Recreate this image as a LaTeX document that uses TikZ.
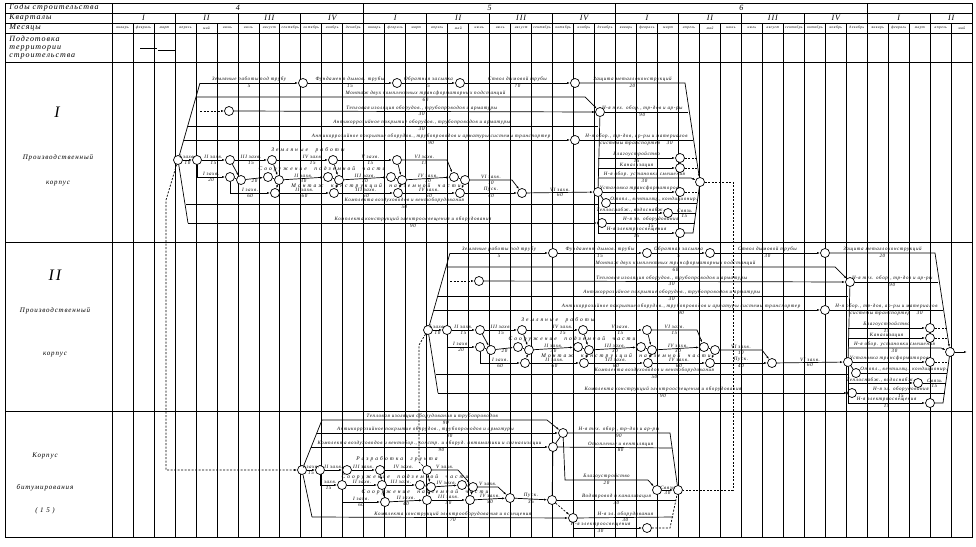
\documentclass[tikz,border=0pt]{standalone}
\usepackage{fontspec}
\setmainfont{Liberation Serif}
\newfontfamily\gost[LetterSpace=12]{Liberation Serif}
\usetikzlibrary{arrows.meta}

\newcommand\mw{20.98}

\begin{document}
\begin{tikzpicture}[x=1pt, y=-1pt, line width=0.7pt,
  ev/.style={circle, draw, fill=white, inner sep=0pt, minimum size=9pt},
  lbl/.style={font=\gost\itshape\fontsize{5}{5}\selectfont, inner sep=0.6pt},
  sp/.style={font=\gost\itshape\fontsize{5.5}{5.5}\selectfont, inner sep=0pt},
  mon/.style={font=\gost\itshape\fontsize{3.6}{3.6}\selectfont, inner sep=0pt},
  hd/.style={font=\gost\itshape\fontsize{8}{8}\selectfont, inner sep=0pt},
  sec/.style={font=\gost\itshape\fontsize{7}{7}\selectfont, inner sep=0pt},
  big/.style={font=\gost\itshape\fontsize{16}{16}\selectfont, inner sep=0pt},
  wk/.style={-{Latex[length=3pt,width=2pt]}},
  dep/.style={dash pattern=on 2pt off 1.5pt}]
\useasboundingbox (0,0) rectangle (976,546);

% table
\draw (5,3) rectangle (972,537);
\draw (112,3) -- (112,537);
\foreach \yy in {13,23,33,62,242,411}
  \draw (5,\yy) -- (972,\yy);
\foreach \m in {1,...,40}
  \draw ({112+\m*\mw},23) -- ({112+\m*\mw},537);
\foreach \m in {3,6,...,39}
  \draw ({112+\m*\mw},13) -- ({112+\m*\mw},23);
\foreach \m in {12,24,36}
  \draw ({112+\m*\mw},3) -- ({112+\m*\mw},13);

\node[hd, anchor=west] (hy) at (9,8) {Годы строительства};
\node[hd, anchor=west] (hq) at (9,18) {Кварталы};
\node[hd, anchor=west] (hm) at (9,28) {Месяцы};
\node[hd, anchor=west, align=left] (hp) at (9,47.5) {Подготовка\\территории\\строительства};
\foreach \yl [count=\i from 0] in {4,5,6}
  \node[hd] (y\yl) at ({112+(12*\i+6)*\mw},8) {\yl};
\foreach \ql [count=\i from 0] in {I,II,III,IV,I,II,III,IV,I,II,III,IV,I}
  \node[hd] (q\i) at ({112+(3*\i+1.5)*\mw},18) {\ql};
\node[hd] (q13) at ({112+40*\mw},18) {II};
\foreach \yr in {0,1,2}
  \foreach \mn [count=\i from 0] in {январь,февраль,март,апрель,май,июнь,июль,август,сентябрь,октябрь,ноябрь,декабрь}
    \node[mon] (mo\yr-\i) at ({112+(12*\yr+\i+0.5)*\mw},28) {\mn};
\foreach \mn [count=\i from 0] in {январь,февраль,март,апрель,май}
  \node[mon] (mo3-\i) at ({112+(36+\i+0.5)*\mw},28) {\mn};
\draw[line width=1pt] (140,48) -- (157,48);
\draw (158,50) -- (176,50);

\node[big] (n1) at (57,112) {I};
\node[sec] (n1a) at (58,158) {Производственный};
\node[sec] (n1b) at (58,184) {корпус};
\node[big] (n2) at (55,275) {II};
\node[sec] (n2a) at (55,311) {Производственный};
\node[sec] (n2b) at (55,355) {корпус};
\node[sec] (n3a) at (45,456) {Корпус};
\node[sec] (n3b) at (45,488) {битумирования};
\node[sec] (n3c) at (45,511) {( 1 5 )};

% production buildings I and II
\foreach \dx/\dy/\tg/\dd in {0/0/a/70, 250/170/b/30}{
\begin{scope}[shift={(\dx,\dy)}]
 \node[ev] (s\tg) at (178,160) {};
 \node[ev] (e1\tg) at (303,83) {};
 \node[ev] (e2\tg) at (397,83) {};
 \node[ev] (e3\tg) at (460,83) {};
 \node[ev] (e4\tg) at (575,83) {};
 \node[ev] (iz\tg) at (229,111) {};
 \node[ev] (th\tg) at (600,112) {};
 \node[ev] (tr\tg) at (575,140) {};
 \node[ev] (f\tg) at (700,182) {};
 \node[ev] (z1\tg) at (197,160) {};
 \node[ev] (z2\tg) at (230,160) {};
 \node[ev] (z3\tg) at (272,160) {};
 \node[ev] (z4\tg) at (333,160) {};
 \node[ev] (z5\tg) at (397,160) {};
 \node[ev] (p1\tg) at (230,177) {};
 \node[ev] (p2\tg) at (241,180) {};
 \node[ev] (p3\tg) at (268,177) {};
 \node[ev] (p4\tg) at (279,180) {};
 \node[ev] (p5\tg) at (328,177) {};
 \node[ev] (p6\tg) at (339,180) {};
 \node[ev] (p7\tg) at (391,177) {};
 \node[ev] (p8\tg) at (402,180) {};
 \node[ev] (p9\tg) at (454,177) {};
 \node[ev] (p10\tg) at (465,180) {};
 \node[ev] (m1\tg) at (275,193) {};
 \node[ev] (m2\tg) at (334,193) {};
 \node[ev] (m3\tg) at (398,193) {};
 \node[ev] (m4\tg) at (460,193) {};
 \node[ev] (q1\tg) at (522,193) {};
 \node[ev] (u1\tg) at (598,192) {};
 \node[ev] (u2\tg) at (606,203) {};
 \node[ev] (u3\tg) at (602,223) {};
 \node[ev] (r1\tg) at (680,158) {};
 \node[ev] (r2\tg) at (680,168) {};
 \node[ev] (r3\tg) at (680,192) {};
 \node[ev] (r4\tg) at (668,213) {};
 \node[ev] (r5\tg) at (680,233) {};

 % upper works
 \draw (s\tg) -- (200,83);
 \draw[wk] (200,83) -- node[lbl,above]{Земляные работы под трубу} node[lbl,below]{5} (e1\tg);
 \draw[wk] (e1\tg) -- node[lbl,above]{Фундамент дымов. трубы} node[lbl,below]{15} (e2\tg);
 \draw[wk] (e2\tg) -- node[lbl,above]{Обратная засыпка} node[lbl,below]{5} (e3\tg);
 \draw[wk] (e3\tg) -- node[lbl,above]{Ствол дымовой трубы} node[lbl,below]{\dd} (e4\tg);
 \draw[wk] (e4\tg) -- node[lbl,above]{Защита металлоконструкций} node[lbl,below]{20} (685,83) -- (f\tg);
 \draw[wk] (196,97) -- node[lbl,above,pos=0.59]{Монтаж двух комплектных трансформаторных подстанций} node[lbl,below,pos=0.59]{60} (585,97) -- (th\tg);
 \draw[dep,wk] (200,111) -- (iz\tg);
 \draw[wk] (iz\tg) -- node[lbl,above,pos=0.52]{Тепловая изоляция оборудов., трубопроводов и арматуры} node[lbl,below,pos=0.52]{30} (th\tg);
 \draw (188,126) -- node[lbl,above,pos=0.57]{Антикоррозийное покрытие оборудов., трубопроводов и арматуры} node[lbl,below,pos=0.57]{30} (598,126);
 \draw[wk] (184,140) -- node[lbl,above,pos=0.64]{Антикоррозийное покрытие оборудов., трубопроводов и арматуры системы транспортер} node[lbl,below,pos=0.64]{90} (tr\tg);
 \draw (th\tg) -- node[lbl,above,pos=0.45]{Н-я тех. обор., тр-дов и ар-ры} node[lbl,below,pos=0.45]{90} (688,112);
 \draw (tr\tg) -- node[lbl,above]{Н-я обор., тр-дов, ар-ры и материалов} node[lbl,below]{системы транспортер \quad 30} (693,140);

 % final cluster
 \draw (th\tg) -- (u1\tg);
 \draw (u1\tg) -- (598,233);
 \draw[wk] (598,158) -- node[lbl,above]{Благоустройство} node[lbl,below]{15} (r1\tg);
 \draw[wk] (598,168) -- node[lbl,above]{Канализация} (r2\tg);
 \draw[wk] (598,178) -- node[lbl,above]{Н-я обор. установки смешения} node[lbl,below]{30} (691,178) -- (f\tg);
 \draw[wk] (u1\tg) -- node[lbl,above]{Установка трансформаторов} (r3\tg);
 \draw (u1\tg) -- (u2\tg);
 \draw (u2\tg) -- node[lbl,above]{Отопл., вентиляц., кондиционир.} (697,203);
 \draw[wk] (598,213) -- node[lbl,above]{Теплоснабж., водоснабж.} (r4\tg);
 \draw (r4\tg) -- node[lbl,above]{Связь} node[lbl,below]{15} (696,213);
 \draw (u3\tg) -- node[lbl,above]{Н-я эл. оборудования} node[lbl,below]{15} (695,223);
 \draw[wk] (598,233) -- node[lbl,above]{Н-я электроосвещения} node[lbl,below]{15} (r5\tg);
 \draw[dep] (r1\tg) -- (696,158);
 \draw[dep] (r2\tg) -- (697,168);
 \draw[dep] (r3\tg) -- (698,192);
 \draw (r5\tg) -- (693,233) -- (f\tg);

 % lower works
 \draw (s\tg) -- (188,223);
 \draw (186,204) -- node[lbl,above,pos=0.53]{Комплекта воздуховодов и вентоборудования} node[lbl,below,pos=0.53]{50} (598,204);
 \draw[wk] (188,223) -- node[lbl,above,pos=0.55]{Комплекта конструкций электроосвещения и оборудования} node[lbl,below,pos=0.55]{90} (u3\tg);

 % zakhvatki
 \node[sp] (zr\tg) at (308,150) {З е м л я н ы е \quad р а б о т ы};
 \node[sp] (pc\tg) at (322,169) {С о о р у ж е н и е \quad п о д з е м н о й \quad ч а с т и};
 \node[sp] (nc\tg) at (376,186) {М о н т а ж \quad к о н с т р у к ц и й \quad н а д з е м н о й \quad ч а с т и};
 \draw[wk] (s\tg) -- node[lbl,above]{I захв.} node[lbl,below]{10} (z1\tg);
 \draw[wk] (z1\tg) -- node[lbl,above]{II захв.} node[lbl,below]{15} (z2\tg);
 \draw[wk] (z2\tg) -- node[lbl,above]{III захв.} node[lbl,below]{15} (z3\tg);
 \draw[wk] (z3\tg) -- node[lbl,above,pos=0.7]{IV захв.} node[lbl,below,pos=0.7]{15} (z4\tg);
 \draw[wk] (z4\tg) -- node[lbl,above,pos=0.6]{V захв.} node[lbl,below,pos=0.6]{15} (z5\tg);
 \draw[wk] (z5\tg) -- node[lbl,above]{VI захв.} node[lbl,below]{15} (447,160) -- (p9\tg);
 \draw[wk] (z1\tg) |- node[lbl,above,pos=0.75]{I захв.} node[lbl,below,pos=0.75]{20} (p1\tg);
 \draw (p1\tg) -- (p2\tg);
 \draw[wk] (p2\tg) -- node[lbl,below]{20} (p3\tg);
 \draw (p3\tg) -- (p4\tg);
 \draw[wk] (p4\tg) -- node[lbl,above]{II захв.} node[lbl,below]{30} (p5\tg);
 \draw (p5\tg) -- (p6\tg);
 \draw[wk] (p6\tg) -- node[lbl,above]{III захв.} node[lbl,below]{30} (p7\tg);
 \draw (p7\tg) -- (p8\tg);
 \draw[wk] (p8\tg) -- node[lbl,above]{IV захв.} node[lbl,below]{30} (p9\tg);
 \draw (p9\tg) -- (p10\tg);
 \draw[wk] (p10\tg) -- node[lbl,above]{VI захв.} node[lbl,below]{10} (512,180) -- (q1\tg);
 \draw[wk] (z2\tg) -- (p2\tg);
 \draw[wk] (z3\tg) -- (p4\tg);
 \draw[wk] (z4\tg) -- (p6\tg);
 \draw[wk] (z5\tg) -- (p8\tg);
 \draw[wk] (p1\tg) |- node[lbl,above,pos=0.75]{I захв.} node[lbl,below,pos=0.75]{60} (m1\tg);
 \draw[wk] (m1\tg) -- node[lbl,above]{II захв.} node[lbl,below]{60} (m2\tg);
 \draw[wk] (m2\tg) -- node[lbl,above]{III захв.} node[lbl,below]{60} (m3\tg);
 \draw[wk] (m3\tg) -- node[lbl,above]{IV захв.} node[lbl,below]{60} (m4\tg);
 \draw[wk] (m4\tg) -- node[lbl,above]{Пуск.} node[lbl,below]{40} (q1\tg);
 \draw[wk] (p4\tg) -- (m1\tg);
 \draw[wk] (p6\tg) -- (m2\tg);
 \draw[wk] (p8\tg) -- (m3\tg);
 \draw[wk] (p10\tg) -- (m4\tg);
 \draw[wk] (q1\tg) -- node[lbl,above]{VI захв.} node[lbl,below]{60} (u1\tg);
\end{scope}
}

% bitumen building
\node[ev] (s3) at (302,470) {};
\node[ev] (w1) at (320,470) {};
\node[ev] (w2) at (347,470) {};
\node[ev] (w3) at (380,470) {};
\node[ev] (w4) at (427,470) {};
\node[ev] (k1) at (342,485) {};
\node[ev] (k2) at (382,485) {};
\node[ev] (k3) at (420,485) {};
\node[ev] (k4) at (431,487) {};
\node[ev] (k5) at (462,485) {};
\node[ev] (k6) at (473,487) {};
\node[ev] (h1) at (385,502) {};
\node[ev] (h2) at (427,500) {};
\node[ev] (h3) at (470,500) {};
\node[ev] (h4) at (510,498) {};
\node[ev] (x1) at (552,500) {};
\node[ev] (x2) at (553,447) {};
\node[ev] (x3) at (563,433) {};
\node[ev] (x4) at (573,518) {};
\node[ev] (x5) at (657,490) {};
\node[ev] (x6) at (647,528) {};
\node[ev] (f3) at (678,490) {};

\draw (s3) -- (322,420);
\draw (s3) -- (312,517);
\draw[wk] (322,420) -- node[lbl,above,pos=0.49]{Тепловая изоляция оборудования и трубопроводов} node[lbl,below,pos=0.55]{90} (547,420) -- (x3);
\draw[wk] (317,433) -- node[lbl,above,pos=0.45]{Антикоррозийное покрытие оборудов., трубопроводов и арматуры} node[lbl,below,pos=0.55]{90} (x3);
\draw[wk] (311,447) -- node[lbl,above,pos=0.5]{Комплекта воздуховодов и вентобор., констр. и оборуд. автоматики и сигнализации} node[lbl,below,pos=0.55]{90} (x2);

\node[sp] (rg) at (397,459) {Р а з р а б о т к а \quad г р у н т а};
\node[sp] (pc3) at (405,477) {С о о р у ж е н и е \quad п о д з е м н о й \quad ч а с т и};
\node[sp] (nc3) at (425,492) {С о о р у ж е н и е \quad н а д з е м н о й \quad ч а с т и};
\draw[wk] (s3) -- node[lbl,above]{I захв.} node[lbl,below]{15} (w1);
\draw[wk] (w1) -- node[lbl,above]{II захв.} (w2);
\draw[wk] (w2) -- node[lbl,above]{III захв.} (w3);
\draw[wk] (w3) -- node[lbl,above]{IV захв.} (w4);
\draw[wk] (w4) -- node[lbl,above]{V захв.} (458,470) -- (k6);
\draw[wk] (w1) |- node[lbl,above,pos=0.75]{I захв.} node[lbl,below,pos=0.75]{15} (k1);
\draw[wk] (k1) -- node[lbl,above]{II захв.} (k2);
\draw[wk] (k2) -- node[lbl,above]{III захв.} (k3);
\draw (k3) -- (k4);
\draw[wk] (k4) -- node[lbl,above]{IV захв.} (k5);
\draw (k5) -- (k6);
\draw[wk] (k6) -- node[lbl,above]{V захв.} (498,487) -- (h4);
\draw[wk] (k1) |- node[lbl,above,pos=0.75]{I захв.} node[lbl,below,pos=0.75]{60} (h1);
\draw[wk] (h1) -- node[lbl,above]{II захв.} node[lbl,below]{40} (h2);
\draw[wk] (h2) -- node[lbl,above]{III захв.} node[lbl,below]{50} (h3);
\draw[wk] (h3) -- node[lbl,above]{IV захв.} node[lbl,below]{50} (h4);
\draw[wk] (h4) -- node[lbl,above]{Пуск.} node[lbl,below]{35} (x1);
\draw[wk] (w3) -- (k2);
\draw[wk] (w4) -- (k4);
\draw[wk] (k2) -- (h1);
\draw[wk] (k4) -- (h2);
\draw[wk] (k6) -- (h3);

\draw (x1) -- (x2);
\draw (x2) -- (x3);
\draw (x3) -- node[lbl,above]{Н-я тех. обор., тр-дов и ар-ры} node[lbl,below]{90} (670,433) -- (f3);
\draw (x2) -- node[lbl,above,pos=0.55]{Отопление и вентиляция} node[lbl,below,pos=0.55]{80} (672,448);
\draw[wk] (x3) -- (565,480) -- node[lbl,above]{Благоустройство} node[lbl,below]{20} (648,480) -- (x5);
\draw[wk] (x5) -- node[lbl,above]{Связь} node[lbl,below]{30} (f3);
\draw (x1) -- node[lbl,above]{Водопровод и канализация} node[lbl,below]{30} (676,500);
\draw[wk] (312,517) -- node[lbl,above,pos=0.55]{Комплекта конструкций электрооборудования и освещения} node[lbl,below,pos=0.55]{70} (x4);
\draw[dep,wk] (x1) -- (x4);
\draw (x4) -- node[lbl,above]{Н-я эл. оборудования} node[lbl,below]{30} (673,517);
\draw[wk] (x4) |- node[lbl,above,pos=0.7]{Н-я электроосвещения} node[lbl,below,pos=0.7]{30} (x6);
\draw[dep] (x6) -- (670,528) -- (f3);

% links between buildings
\draw[dep,wk] (sa) -- (166,200) -- (166,470) -- (s3);
\draw[dep] (fa) -- (733,182) -- (733,490) -- (f3);
\draw[dep] (sb) -- (419,345) -- (419,462) -- (w4);
\draw[wk] (fb) -- (967,352);
\end{tikzpicture}
\end{document}
